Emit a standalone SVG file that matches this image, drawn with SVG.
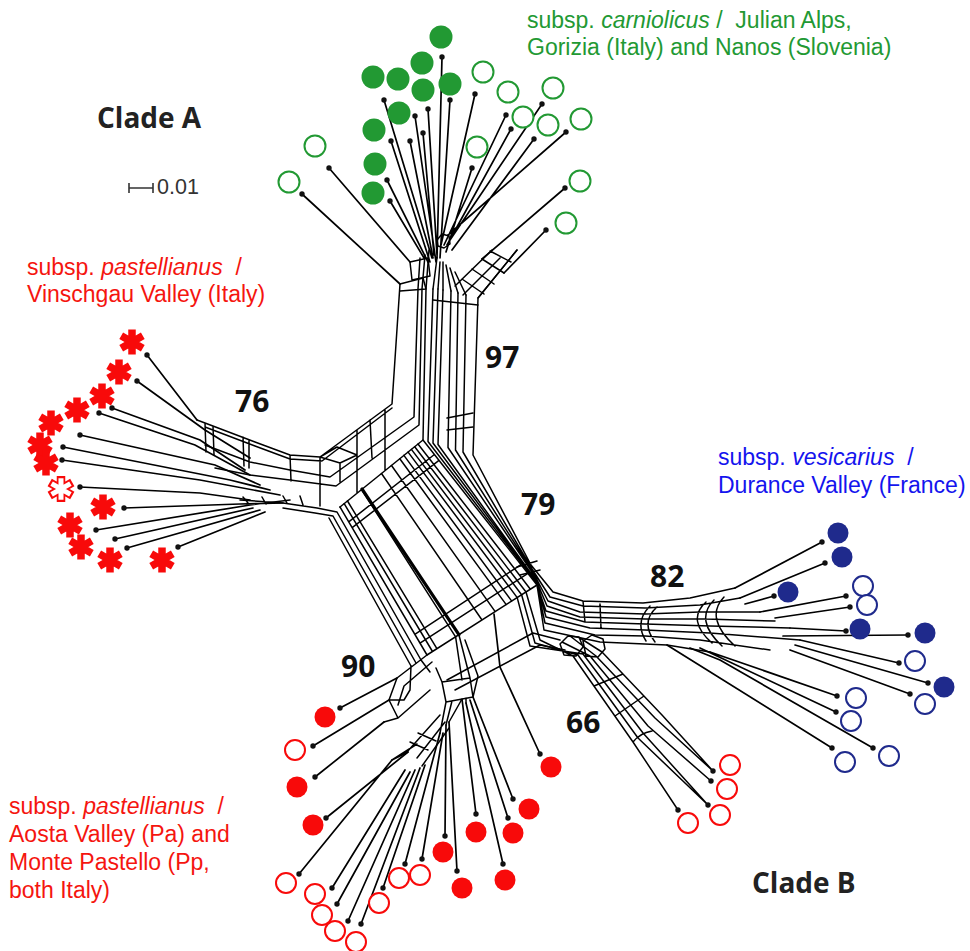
<svg xmlns="http://www.w3.org/2000/svg" xmlns:xlink="http://www.w3.org/1999/xlink" width="970" height="951" viewBox="0 0 970 951">
<style>
.net{fill:none;stroke:#000;stroke-width:1.5;stroke-linejoin:round;stroke-linecap:round}
.thk{fill:none;stroke:#000;stroke-width:3.2;stroke-linecap:round}
.leaf{fill:none;stroke:#000;stroke-width:1.7;stroke-linecap:round}
.dt{fill:#111}
.gf{fill:#229933}
.go{fill:#fff;stroke:#229933;stroke-width:2}
.rf{fill:#f80a0a}
.ro{fill:#fff;stroke:#f80a0a;stroke-width:2}
.bf{fill:#1f2a8c}
.bo{fill:#fff;stroke:#1f2a8c;stroke-width:2}
.num{font-family:"Open Sans","DejaVu Sans",sans-serif;font-weight:700;font-size:30px;fill:#111}
.clade{font-family:"Open Sans","DejaVu Sans",sans-serif;font-weight:700;font-size:28px;fill:#222}
.lab{font-family:"Liberation Sans",Arial,sans-serif;font-size:23px;white-space:pre}
</style>
<defs>
<g id="ast"><path d="M0,-12.5V12.5M-10.8,-6.25L10.8,6.25M-10.8,6.25L10.8,-6.25" stroke="#f80a0a" stroke-width="7.5" fill="none"/></g>
<g id="asto"><path d="M0,-13V13M-11.3,-6.5L11.3,6.5M-11.3,6.5L11.3,-6.5" stroke="#f80a0a" stroke-width="8.5" fill="none"/><path d="M0,-10.8V10.8M-9.4,-5.4L9.4,5.4M-9.4,5.4L9.4,-5.4" stroke="#fff" stroke-width="5" fill="none"/></g>
</defs>
<rect width="970" height="951" fill="#fff"/>

<g id="connectors">
<!-- left band (76) -->
<path class="net" d="M400,284 L392,404 L320,457 L290,455 L255,442 L205,423 L197,420
M392,408 L322,461 L290,459 L255,446 L205,427
M420,258 L418,289 L414,417 L330,477 L290,470 L250,462 L205,445
M425,255 L422,289 L419,425 L336,486 L290,480 L250,475 L215,468
M429,250 L426,289 L423,440 L340,507
M421,660 L337,512 L317,508 L283,503 L240,500
M416,663 L333,516 L315,513 L283,508
M411,666 L329,518
M357,430 L357,493 M385,410 L385,470 M370,420 L372,458
M205,423 L206,452 M213,426 L214,455 M243,437 L244,466 M249,440 L249,468 M290,455 L291,481 M320,457 L320,506
M320,457 L337,447 L357,455 L340,463 L320,457 M340,463 L340,482
M243,497 L248,503 M262,497 L266,504 M283,496 L287,503 M300,496 L303,505"/>
<!-- top tangle -->
<path class="net" d="M410,262 L428,258 L430,276 L412,280 Z M400,284 L423,278 L426,289 L400,291
M437,240 L442,234 L449,236 L450,244 L444,248 L438,246 Z
M437,258 L433,289 M440,262 L438,289 M443,262 L443,290 M446,265 L451,291 M450,268 L458,293 M455,272 L466,295
M455,286 L492,250 M463,295 L500,258 M478,298 L517,250
M462,279 L484,294 M472,269 L494,284 M482,259 L504,273 M490,251 L511,262
M447,418 L473,413 M447,430 L473,427 M433,300 L478,305"/>
<!-- 79 band / right band -->
<path class="net" d="M517,250 L478,298 L473,455 L531,565 L553,592 L583,601 L643,603 L690,598 L735,588
M466,295 L463,452 L532,569 L550,597 L583,606 L645,608 L700,605 L740,598
M458,293 L455.5,450 L533,572 L548,601 L580,612 L645,614 L700,612 L760,612
M451,291 L448,447.5 L534,575 L547,606 L580,617 L645,619 L705,619 L775,621
M443,290 L438,444.5 L535,579 L546,611 L585,622 L645,624 L710,626 L790,628
M438,289 L433,443 L536,581 L546,617 L590,628 L645,630 L710,633 L800,640
M433,289 L428,441.5 L536.4,583 L545,623 L595,635 L645,636 L700,640 L770,650
M537,585 L544,630 L600,642 L667,645 L710,652
M447,680 L533,633 L560,640 M455,690 L540,645 L565,650
M657,607 Q640,622 655,642 M650,606 Q634,622 646,641
M706,602 Q686,620 712,643 M714,600 Q694,620 722,646 M724,597 Q704,618 735,646
M583,601 L585,622 M600,604 L601,628 M517,567 L537,561 M520,575 L540,570"/>
<!-- centre -->
<path class="net" d="M340,507 L427,655 M344.2,503.7 L432.5,651.5 M347.5,501 L436.9,648.7 M361.6,489.6 L455.6,636.8
M381.5,473.5 L482,620 M391.5,465.5 L495.2,611.6 M399.8,458.8 L506.2,604.6 M403.9,455.4 L511.7,601.1
M408.1,452.1 L517.2,597.6 M411.4,449.4 L521.6,594.8 M414.7,446.7 L526,592 M418,444 L530.4,589.2 M423,440 L537,585
M348.7,521.8 L434.4,454.5 M352.2,527.7 L439,460.3 M414.8,634.3 L521,564.7 M420,643.2 L527.9,573.4 M427,655 L537,585"/>
<path class="thk" d="M362,489 L458.9,634.7"/>
<!-- 66 band -->
<path class="net" d="M526,592 L540,640 L573,656 L633,742 L678,810
M521.6,594.8 L535,643 L578,655 L638,738 L708,805
M517.2,597.6 L530,646 L583,654 L643,733 L708,805
M562,642 L590,656 L648,726 L711,781
M570,636 L596,656 L655,718 L713,771
M580,638 L602,652 L662,715 L713,771
M560,644 L568,636 L579,637 L583,647 L576,656 L564,655 Z
M583,641 L592,635 L603,639 L605,649 L598,657 L586,656 Z
M594,686 L623,674 M615,716 L644,696 M633,742 Q640,733 652,731"/>
<!-- bottom (90) -->
<path class="net" d="M427,655 L397,678 M432,662 L404,686 M421,660 L430,672
M397,678 L389,700 L398,718 M404,686 L398,705 M389,700 L404,700 M411,666 L410,690 L404,700
M436,668 L442,682 L470,678 M442,682 L446,702 L473,697 L470,678
M458.9,634.7 L470,678 M455.6,636.8 L462,680 M465,640 L478,676 L473,697
M446,702 L440,733 M452,701 L446,725 M462,699 L449,722 M466,698 L466,703
M440,715 L407,752 M445,722 L417,758 M449,728 L422,766 M410,742 L428,750 M418,733 L436,741
M384,722 L398,718 L430,690 M408,752 L392,760 M417,744 L392,760"/>
<!-- leaf lines -->
<path class="leaf" d="M442,57 L437,258 M384,100 L432,258 M415,116 L436,262 M428,109 L437,255 M450,100 L440,258
M423,133 L434,255 M391,141 L430,262 M410,141 L433,258 M387,180 L428,262 M390,201 L424,258
M329,168 L410,262 M302,194 L400,284 M475,94 L441,245 M506,115 L444,245 M511,129 L447,245
M542,104 L450,240 M534,139 L452,250 M566,132 L448,235 M472,168 L446,252 M565,188 L482,259 M546,230 L504,273
M147,355 L197,420 M137,381 L205,430 L250,458 M112,408 L200,440 L245,470 M99,413 L195,445 L250,475
M80,435 L215,465 L260,485 M63,447 L230,480 L270,490 M62,460 L200,480 L280,495 M80,487 L200,493 L250,500
M124,508 L240,504 L283,503 M96,530 L250,505 L290,500 M115,539 L253,508 M127,548 L260,510 M178,547 L265,512
M822,542 L735,588 M825,563 L740,598 M774,596 L745,604 M846,596 L760,612 M850,607 L775,618
M846,631 L790,628 M908,635 L783,636 M899,663 L800,640 M928,683 L795,645 M910,694 L790,650
M837,696 L710,652 M836,712 L700,648 M832,748 L667,645 M873,748 L720,660 L690,648
M340,708 L397,678 M313,746 L389,700 M315,777 L384,722 M326,818 L408,752 M299,874 L392,760
M332,888 L405,770 M337,904 L410,772 M348,921 L415,770 M361,924 L420,768 M383,888 L425,765
M405,864 L440,733 M422,859 L443,733 M445,836 L446,725 M457,871 L449,722 M476,814 L462,699
M503,864 L466,703 M508,818 L470,700 M513,799 L473,697 M540,754 L500,667 L494,614"/>
</g>

<!-- green leaves -->
<g id="leaves-carniolicus">
<g id="c1"><circle class="gf" cx="441" cy="37" r="11.5"/><circle class="dt" cx="442" cy="57" r="2.7"/></g>
<g id="c2"><circle class="gf" cx="373" cy="77" r="11.5"/><circle class="dt" cx="384" cy="100" r="2.7"/></g>
<g id="c3"><circle class="gf" cx="398" cy="79" r="11.5"/><circle class="dt" cx="415" cy="116" r="2.7"/></g>
<g id="c4"><circle class="gf" cx="422" cy="63" r="11.5"/><circle class="dt" cx="428" cy="109" r="2.7"/></g>
<g id="c5"><circle class="gf" cx="423" cy="90" r="11.5"/><circle class="dt" cx="423" cy="133" r="2.7"/></g>
<g id="c6"><circle class="gf" cx="450" cy="84" r="11.5"/><circle class="dt" cx="450" cy="100" r="2.7"/></g>
<g id="c7"><circle class="gf" cx="399" cy="113" r="11.5"/><circle class="dt" cx="410" cy="141" r="2.7"/></g>
<g id="c8"><circle class="gf" cx="374" cy="130" r="11.5"/><circle class="dt" cx="391" cy="141" r="2.7"/></g>
<g id="c9"><circle class="gf" cx="375" cy="164" r="11.5"/><circle class="dt" cx="387" cy="180" r="2.7"/></g>
<g id="c10"><circle class="gf" cx="373" cy="193" r="11.5"/><circle class="dt" cx="390" cy="201" r="2.7"/></g>
<g id="c11"><circle class="go" cx="483" cy="72" r="10.5"/><circle class="dt" cx="475" cy="94" r="2.7"/></g>
<g id="c12"><circle class="go" cx="508" cy="92" r="10.5"/><circle class="dt" cx="506" cy="115" r="2.7"/></g>
<g id="c13"><circle class="go" cx="553" cy="88" r="10.5"/><circle class="dt" cx="542" cy="104" r="2.7"/></g>
<g id="c14"><circle class="go" cx="523" cy="117" r="10.5"/><circle class="dt" cx="511" cy="129" r="2.7"/></g>
<g id="c15"><circle class="go" cx="548" cy="125" r="10.5"/><circle class="dt" cx="534" cy="139" r="2.7"/></g>
<g id="c16"><circle class="go" cx="581" cy="119" r="10.5"/><circle class="dt" cx="566" cy="132" r="2.7"/></g>
<g id="c17"><circle class="go" cx="477" cy="147" r="10.5"/><circle class="dt" cx="472" cy="168" r="2.7"/></g>
<g id="c18"><circle class="go" cx="315" cy="146" r="10.5"/><circle class="dt" cx="329" cy="168" r="2.7"/></g>
<g id="c19"><circle class="go" cx="289" cy="182" r="10.5"/><circle class="dt" cx="302" cy="194" r="2.7"/></g>
<g id="c20"><circle class="go" cx="580" cy="181" r="10.5"/><circle class="dt" cx="565" cy="188" r="2.7"/></g>
<g id="c21"><circle class="go" cx="566" cy="223" r="10.5"/><circle class="dt" cx="546" cy="230" r="2.7"/></g>
</g>

<!-- Vinschgau asterisks -->
<g id="leaves-vinschgau">
<g id="v1"><use href="#ast" x="132" y="342"/><circle class="dt" cx="147" cy="355" r="2.7"/></g>
<g id="v2"><use href="#ast" x="119" y="372"/><circle class="dt" cx="137" cy="381" r="2.7"/></g>
<g id="v3"><use href="#ast" x="102" y="396"/><circle class="dt" cx="112" cy="408" r="2.7"/></g>
<g id="v4"><use href="#ast" x="77" y="410"/><circle class="dt" cx="99" cy="413" r="2.7"/></g>
<g id="v5"><use href="#ast" x="51" y="423"/><circle class="dt" cx="80" cy="435" r="2.7"/></g>
<g id="v6"><use href="#ast" x="40" y="445"/><circle class="dt" cx="63" cy="447" r="2.7"/></g>
<g id="v7"><use href="#ast" x="46" y="463"/><circle class="dt" cx="62" cy="460" r="2.7"/></g>
<g id="v8"><use href="#asto" x="61" y="489"/><circle class="dt" cx="80" cy="487" r="2.7"/></g>
<g id="v9"><use href="#ast" x="103" y="507"/><circle class="dt" cx="124" cy="508" r="2.7"/></g>
<g id="v10"><use href="#ast" x="70" y="525"/><circle class="dt" cx="96" cy="530" r="2.7"/></g>
<g id="v11"><use href="#ast" x="81" y="547"/><circle class="dt" cx="115" cy="539" r="2.7"/></g>
<g id="v12"><use href="#ast" x="110" y="560"/><circle class="dt" cx="127" cy="548" r="2.7"/></g>
<g id="v13"><use href="#ast" x="162" y="560"/><circle class="dt" cx="178" cy="547" r="2.7"/></g>
</g>

<!-- Aosta / Monte Pastello -->
<g id="leaves-aosta">
<g id="p1"><circle class="rf" cx="325" cy="717" r="10.5"/><circle class="dt" cx="340" cy="708" r="2.7"/></g>
<g id="p2"><circle class="ro" cx="295" cy="750" r="10"/><circle class="dt" cx="313" cy="746" r="2.7"/></g>
<g id="p3"><circle class="rf" cx="297" cy="787" r="10.5"/><circle class="dt" cx="315" cy="777" r="2.7"/></g>
<g id="p4"><circle class="rf" cx="313" cy="825" r="10.5"/><circle class="dt" cx="326" cy="818" r="2.7"/></g>
<g id="p5"><circle class="ro" cx="286" cy="883" r="10"/><circle class="dt" cx="299" cy="874" r="2.7"/></g>
<g id="p6"><circle class="ro" cx="315" cy="894" r="10"/><circle class="dt" cx="332" cy="888" r="2.7"/></g>
<g id="p7"><circle class="ro" cx="322" cy="915" r="10"/><circle class="dt" cx="337" cy="904" r="2.7"/></g>
<g id="p8"><circle class="ro" cx="335" cy="931" r="10"/><circle class="dt" cx="348" cy="921" r="2.7"/></g>
<g id="p9"><circle class="ro" cx="356" cy="942" r="10"/><circle class="dt" cx="361" cy="924" r="2.7"/></g>
<g id="p10"><circle class="ro" cx="379" cy="903" r="10"/><circle class="dt" cx="383" cy="888" r="2.7"/></g>
<g id="p11"><circle class="ro" cx="399" cy="878" r="10"/><circle class="dt" cx="405" cy="864" r="2.7"/></g>
<g id="p12"><circle class="ro" cx="420" cy="875" r="10"/><circle class="dt" cx="422" cy="859" r="2.7"/></g>
<g id="p13"><circle class="rf" cx="443" cy="852" r="10.5"/><circle class="dt" cx="445" cy="836" r="2.7"/></g>
<g id="p14"><circle class="rf" cx="462" cy="888" r="10.5"/><circle class="dt" cx="457" cy="871" r="2.7"/></g>
<g id="p15"><circle class="rf" cx="476" cy="832" r="10.5"/><circle class="dt" cx="476" cy="814" r="2.7"/></g>
<g id="p16"><circle class="rf" cx="505" cy="880" r="10.5"/><circle class="dt" cx="503" cy="864" r="2.7"/></g>
<g id="p17"><circle class="rf" cx="513" cy="833" r="10.5"/><circle class="dt" cx="508" cy="818" r="2.7"/></g>
<g id="p18"><circle class="rf" cx="529" cy="809" r="10.5"/><circle class="dt" cx="513" cy="799" r="2.7"/></g>
<g id="p19"><circle class="rf" cx="551" cy="767" r="10.5"/><circle class="dt" cx="540" cy="754" r="2.7"/></g>
</g>

<!-- 66 group -->
<g id="leaves-66">
<g id="q1"><circle class="ro" cx="730" cy="765" r="10"/><circle class="dt" cx="713" cy="771" r="2.7"/></g>
<g id="q2"><circle class="ro" cx="727" cy="789" r="10"/><circle class="dt" cx="711" cy="781" r="2.7"/></g>
<g id="q3"><circle class="ro" cx="720" cy="815" r="10"/><circle class="dt" cx="708" cy="805" r="2.7"/></g>
<g id="q4"><circle class="ro" cx="688" cy="823" r="10"/><circle class="dt" cx="678" cy="810" r="2.7"/></g>
</g>

<!-- vesicarius -->
<g id="leaves-vesicarius">
<g id="b1"><circle class="bf" cx="838" cy="533" r="10.5"/><circle class="dt" cx="822" cy="542" r="2.7"/></g>
<g id="b2"><circle class="bf" cx="842" cy="557" r="10.5"/><circle class="dt" cx="825" cy="563" r="2.7"/></g>
<g id="b3"><circle class="bf" cx="788" cy="592" r="10.5"/><circle class="dt" cx="774" cy="596" r="2.7"/></g>
<g id="b4"><circle class="bo" cx="863" cy="586" r="10"/><circle class="dt" cx="846" cy="596" r="2.7"/></g>
<g id="b5"><circle class="bo" cx="867" cy="605" r="10"/><circle class="dt" cx="850" cy="607" r="2.7"/></g>
<g id="b6"><circle class="bf" cx="860" cy="629" r="10.5"/><circle class="dt" cx="846" cy="631" r="2.7"/></g>
<g id="b7"><circle class="bf" cx="925" cy="633" r="10.5"/><circle class="dt" cx="908" cy="635" r="2.7"/></g>
<g id="b8"><circle class="bo" cx="915" cy="661" r="10"/><circle class="dt" cx="899" cy="663" r="2.7"/></g>
<g id="b9"><circle class="bf" cx="944" cy="687" r="10.5"/><circle class="dt" cx="928" cy="683" r="2.7"/></g>
<g id="b10"><circle class="bo" cx="925" cy="704" r="10"/><circle class="dt" cx="910" cy="694" r="2.7"/></g>
<g id="b11"><circle class="bo" cx="856" cy="698" r="10"/><circle class="dt" cx="837" cy="696" r="2.7"/></g>
<g id="b12"><circle class="bo" cx="851" cy="721" r="10"/><circle class="dt" cx="836" cy="712" r="2.7"/></g>
<g id="b13"><circle class="bo" cx="845" cy="762" r="10"/><circle class="dt" cx="832" cy="748" r="2.7"/></g>
<g id="b14"><circle class="bo" cx="889" cy="756" r="10"/><circle class="dt" cx="873" cy="748" r="2.7"/></g>
</g>

<!-- labels -->
<g id="labels">
<text class="lab" x="527" y="28" fill="#229933">subsp. <tspan font-style="italic">carniolicus</tspan> /  Julian Alps,</text>
<text class="lab" x="527" y="55" fill="#229933">Gorizia (Italy) and Nanos (Slovenia)</text>
<text class="clade" x="97" y="128">Clade A</text>
<text class="clade" x="752" y="893">Clade B</text>
<text class="lab" x="27" y="275" fill="#f5150f">subsp. <tspan font-style="italic">pastellianus</tspan>  /</text>
<text class="lab" x="27" y="302" fill="#f5150f">Vinschgau Valley (Italy)</text>
<text class="lab" x="718" y="465" fill="#1414ee">subsp. <tspan font-style="italic">vesicarius</tspan>  /</text>
<text class="lab" x="718" y="493" fill="#1414ee">Durance Valley (France)</text>
<text class="lab" x="9" y="814" fill="#f5150f">subsp. <tspan font-style="italic">pastellianus</tspan>  /</text>
<text class="lab" x="9" y="842" fill="#f5150f">Aosta Valley (Pa) and</text>
<text class="lab" x="9" y="870" fill="#f5150f">Monte Pastello (Pp,</text>
<text class="lab" x="9" y="898" fill="#f5150f">both Italy)</text>
<text class="num" x="235" y="412">76</text>
<text class="num" x="485" y="368">97</text>
<text class="num" x="521" y="515">79</text>
<text class="num" x="650" y="587">82</text>
<text class="num" x="341" y="677">90</text>
<text class="num" x="566" y="733">66</text>
</g>
<g id="scalebar">
<path d="M129,188H153M129,183V193M153,183V193" stroke="#333" stroke-width="1.6" fill="none"/>
<text x="157" y="194" font-family="Liberation Sans, Arial, sans-serif" font-size="21.5" fill="#333">0.01</text>
</g>
</svg>
